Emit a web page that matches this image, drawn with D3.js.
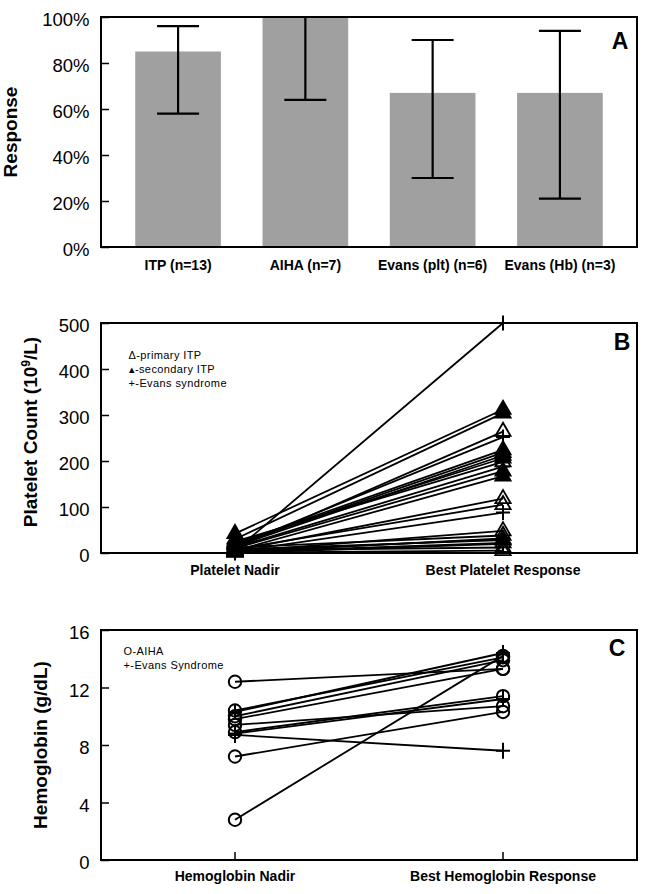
<!DOCTYPE html>
<html>
<head>
<meta charset="utf-8">
<script src="https://cdn.jsdelivr.net/npm/d3@7"></script>
<style>
  html, body { margin: 0; padding: 0; background: #fff; }
  svg { display: block; font-family: "Liberation Sans", Arial, Helvetica, sans-serif; }
</style>
</head>
<body>
<svg id="chart" width="651" height="894"></svg>
<script>
// ---------- Panel A data ----------
const catsA = ["ITP (n=13)", "AIHA (n=7)", "Evans (plt) (n=6)", "Evans (Hb) (n=3)"];
const responseA = [85, 100, 67, 67];
const ciLowA = [58, 64, 30, 21];
const ciHighA = [96, 100, 90, 94];
const ticksA = [0, 20, 40, 60, 80, 100];

// ---------- Panel B data ----------
const catsB = ["Platelet Nadir", "Best Platelet Response"];
const plateletType = ["S","S","P","S","S","P","S","P","S","S","P","P","P","P","P","P","S","P","P","E","E","E","E","E","E"];
const plateletNadir = [42, 30, 10, 18, 15, 20, 22, 25, 10, 5, 5, 8, 3, 12, 2, 6, 8, 1, 4, 5, 15, 12, 3, 2, 0];
const plateletBest  = [312, 304, 264, 218, 212, 224, 206, 198, 178, 167, 118, 105, 48, 38, 22, 12, 28, 5, 30, 500, 252, 188, 88, 32, 20];
const ticksB = [0, 100, 200, 300, 400, 500];

// ---------- Panel C data ----------
const catsC = ["Hemoglobin Nadir", "Best Hemoglobin Response"];
const hbType = ["A","A","A","A","A","A","A","A","E","E","E"];
const hbNadir = [12.4, 10.4, 10.0, 9.8, 8.9, 9.4, 7.2, 2.8, 10.3, 8.7, 8.8];
const hbBest  = [13.3, 14.1, 13.9, 13.3, 11.4, 10.7, 10.3, 14.2, 14.4, 7.6, 11.2];
const ticksC = [0, 4, 8, 12, 16];

const svg = d3.select("#chart");
const X0 = 101, X1 = 637;

function frame(top, bottom) {
  svg.append("rect").attr("x", X0).attr("y", top)
    .attr("width", X1 - X0).attr("height", bottom - top)
    .attr("fill", "none").attr("stroke", "#000").attr("stroke-width", 2);
}
function leftAxis(scale, ticks, fmt) {
  const g = svg.append("g").attr("transform", `translate(${X0},0)`)
    .call(d3.axisLeft(scale).tickValues(ticks).tickSize(-8).tickPadding(11.5).tickFormat(fmt));
  g.select(".domain").remove();
  g.selectAll(".tick line").attr("stroke", "#000").attr("stroke-width", 1.5);
  g.selectAll(".tick text").attr("fill", "#000").attr("font-size", 18.5).attr("y", 3)
    .attr("font-family", "'Liberation Sans', Arial, sans-serif");
  return g;
}
function yTitle(text, cx, cy) {
  return svg.append("text").attr("transform", `translate(${cx},${cy}) rotate(-90)`)
    .attr("text-anchor", "middle").attr("font-size", 19).attr("font-weight", "bold").text(text);
}
function xLabels(scale, cats, y) {
  svg.append("g").selectAll("text").data(cats).join("text")
    .attr("x", d => scale(d) + (scale.bandwidth ? scale.bandwidth() / 2 : 0))
    .attr("y", y).attr("text-anchor", "middle")
    .attr("font-size", 14).attr("font-weight", "bold").text(d => d);
}
function panelLetter(t, x, y) {
  svg.append("text").attr("x", x).attr("y", y).attr("text-anchor", "middle")
    .attr("font-size", 23).attr("font-weight", "bold").text(t);
}
function legend(lines, x, y0, dy) {
  svg.append("g").selectAll("text").data(lines).join("text")
    .attr("x", x).attr("y", (d, i) => y0 + i * dy + 4)
    .attr("font-size", 11).attr("letter-spacing", 0.4).text(d => d);
}
const triPath = d3.symbol(d3.symbolTriangle, 100)();
const plusPath = "M-7,0H7M0,-7.5V7.5";

// ================= Panel A =================
const xA = d3.scaleBand().domain(catsA).range([X0, X1]).paddingInner(0.327).paddingOuter(0.269);
const yA = d3.scaleLinear().domain([0, 100]).range([247, 17]);

svg.append("g").selectAll("rect").data(catsA).join("rect")
  .attr("x", d => xA(d)).attr("width", xA.bandwidth())
  .attr("y", (d, i) => yA(responseA[i])).attr("height", (d, i) => yA(0) - yA(responseA[i]))
  .attr("fill", "#a0a0a0");

const eb = svg.append("g").attr("stroke", "#000").attr("stroke-width", 2.2);
catsA.forEach((c, i) => {
  const cx = xA(c) + xA.bandwidth() / 2;
  eb.append("line").attr("x1", cx).attr("x2", cx).attr("y1", yA(ciLowA[i])).attr("y2", yA(ciHighA[i]));
  eb.append("line").attr("x1", cx - 21).attr("x2", cx + 21).attr("y1", yA(ciLowA[i])).attr("y2", yA(ciLowA[i]));
  eb.append("line").attr("x1", cx - 21).attr("x2", cx + 21).attr("y1", yA(ciHighA[i])).attr("y2", yA(ciHighA[i]));
});
frame(17, 247);
leftAxis(yA, ticksA, d => d + "%");
yTitle("Response", 16.8, 132);
xLabels(xA, catsA, 270);
panelLetter("A", 620, 49);

// ================= Panel B =================
const xB = d3.scalePoint().domain(catsB).range([X0, X1]).padding(0.5);
const yB = d3.scaleLinear().domain([0, 500]).range([553, 323]);

const gB = svg.append("g");
plateletNadir.forEach((n, i) => {
  gB.append("line").attr("x1", xB(catsB[0])).attr("x2", xB(catsB[1]))
    .attr("y1", yB(n)).attr("y2", yB(plateletBest[i]))
    .attr("stroke", "#000").attr("stroke-width", 1.8);
});
function markerB(t, x, y) {
  if (t === "E") {
    gB.append("path").attr("d", plusPath).attr("transform", `translate(${x},${y})`)
      .attr("stroke", "#000").attr("stroke-width", 2).attr("fill", "none");
  } else {
    gB.append("path").attr("d", triPath).attr("transform", `translate(${x},${y})`)
      .attr("stroke", "#000").attr("stroke-width", 1.8)
      .attr("fill", t === "S" ? "#000" : "none");
  }
}
plateletNadir.forEach((n, i) => {
  markerB(plateletType[i], xB(catsB[0]), yB(n));
  markerB(plateletType[i], xB(catsB[1]), yB(plateletBest[i]));
});
frame(323, 553);
leftAxis(yB, ticksB, d => d);
const tB = yTitle("", 36.5, 432);
tB.append("tspan").text("Platelet Count (10");
tB.append("tspan").attr("font-size", 12).attr("dy", -7).text("9");
tB.append("tspan").attr("dy", 7).text("/L)");
xLabels(xB, catsB, 575);
panelLetter("B", 622, 350);
legend(["\u0394-primary  ITP", "\u25B4-secondary  ITP", "+-Evans  syndrome"], 128.5, 355, 14);

// ================= Panel C =================
const xC = d3.scalePoint().domain(catsC).range([X0, X1]).padding(0.5);
const yC = d3.scaleLinear().domain([0, 16]).range([860, 630]);

const gC = svg.append("g");
hbNadir.forEach((n, i) => {
  gC.append("line").attr("x1", xC(catsC[0])).attr("x2", xC(catsC[1]))
    .attr("y1", yC(n)).attr("y2", yC(hbBest[i]))
    .attr("stroke", "#000").attr("stroke-width", 1.8);
});
function markerC(t, x, y) {
  if (t === "E") {
    gC.append("path").attr("d", "M-7,0H7M0,-8V8").attr("transform", `translate(${x},${y})`)
      .attr("stroke", "#000").attr("stroke-width", 2).attr("fill", "none");
  } else {
    gC.append("circle").attr("cx", x).attr("cy", y).attr("r", 6.2)
      .attr("stroke", "#000").attr("stroke-width", 2).attr("fill", "none");
  }
}
hbNadir.forEach((n, i) => {
  markerC(hbType[i], xC(catsC[0]), yC(n));
  markerC(hbType[i], xC(catsC[1]), yC(hbBest[i]));
});
// bottom ticks
svg.append("g").selectAll("line").data(catsC).join("line")
  .attr("x1", d => xC(d)).attr("x2", d => xC(d)).attr("y1", 860).attr("y2", 852)
  .attr("stroke", "#000").attr("stroke-width", 1.5);
frame(630, 860);
leftAxis(yC, ticksC, d => d);
yTitle("Hemoglobin (g/dL)", 46.8, 745);
xLabels(xC, catsC, 881);
panelLetter("C", 617, 656);
legend(["O-AIHA", "+-Evans  Syndrome"], 123.5, 651, 14);
</script>
</body>
</html>
